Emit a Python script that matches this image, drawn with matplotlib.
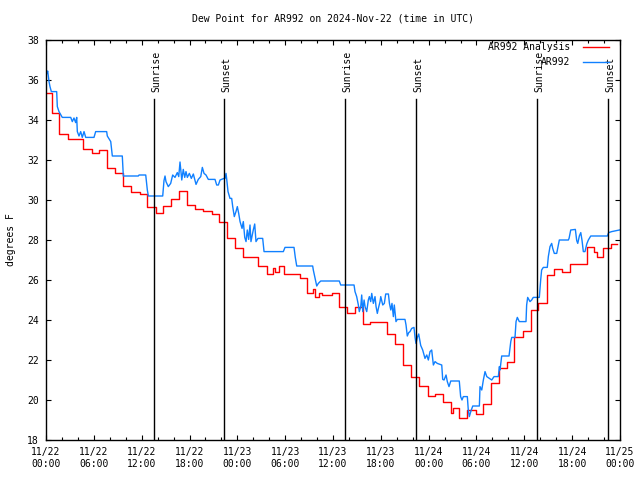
import matplotlib
matplotlib.use("Agg")
import matplotlib.pyplot as plt

# hours since 2024-11-22 00:00 UTC
analysis_hours = [
    0.13, 0.75, 1.6, 2.7, 4.68, 5.81, 6.65, 7.61, 8.66, 9.66, 10.7, 11.75,
    12.71, 13.76, 14.68, 15.72, 16.72, 17.65, 18.69, 19.73, 20.79, 21.7,
    22.67, 23.71, 24.75, 26.63, 27.76, 28.44, 28.73, 29.23, 29.85, 31.86,
    32.7, 33.49, 33.74, 34.2, 34.62, 35.84, 36.79, 37.72, 38.76, 39.73,
    40.64, 42.74, 43.78, 44.75, 45.75, 46.83, 47.96, 48.8, 49.76, 50.8,
    51.05, 51.84, 52.77, 53.9, 54.78, 55.82, 56.82, 57.79, 58.71, 59.8,
    60.8, 61.75, 62.81, 63.72, 64.77, 65.73, 67.83, 68.68, 69.08, 69.91,
    70.87, 71.67,
]
analysis_dewpt = [
    35.35, 34.33, 33.3, 33.05, 32.53, 32.33, 32.5, 31.6, 31.37, 30.7, 30.42, 30.28,
    29.67, 29.35, 29.7, 30.05, 30.47, 29.75, 29.53, 29.43, 29.28, 28.92,
    28.08, 27.58, 27.13, 26.72, 26.3, 26.58, 26.4, 26.7, 26.3, 26.08,
    25.33, 25.53, 25.17, 25.37, 25.25, 25.37, 24.67, 24.33, 24.67, 23.8,
    23.92, 23.3, 22.78, 21.75, 21.17, 20.7, 20.2, 20.3, 19.92, 19.37,
    19.58, 19.12, 19.5, 19.3, 19.78, 20.83, 21.58, 21.92, 23.13, 23.45,
    24.5, 24.87, 26.25, 26.53, 26.42, 26.8, 27.63, 27.4, 27.13, 27.58,
    27.78, 27.78,
]

obs_hours = [
    0.13, 0.21, 0.38, 0.5, 0.67, 1.34, 1.42, 1.63, 2.04, 3.1, 3.3, 3.51, 3.72,
    3.85, 3.93, 4.14, 4.35, 4.55, 4.77, 4.98, 6.02, 6.23, 7.61, 7.69, 8.12,
    8.32, 9.57, 9.7, 11.58, 11.67, 12.51, 12.71, 12.84, 14.64, 14.8, 14.93,
    15.05, 15.34, 15.64, 15.89, 16.18, 16.47, 16.65, 16.81, 17.03, 17.22,
    17.4, 17.56, 17.73, 17.98, 18.23, 18.48, 18.82, 19.1, 19.41, 19.61,
    19.82, 20.07, 20.36, 21.2, 21.41, 21.62, 21.83, 22.33, 22.45, 22.58,
    22.67, 22.83, 23.08, 23.29, 23.42, 23.62, 23.83, 24.0, 24.17, 24.34,
    24.59, 24.75, 24.93, 25.09, 25.25, 25.42, 25.59, 25.71, 26.0, 26.18,
    26.34, 26.59, 27.18, 27.35, 29.77, 29.98, 31.11, 31.27, 31.45, 33.45,
    33.53, 33.96, 34.16, 34.46, 36.79, 36.97, 38.64, 38.76, 38.97, 39.18,
    39.3, 39.48, 39.6, 39.73, 39.9, 40.02, 40.23, 40.43, 40.56, 40.73,
    40.86, 41.06, 41.27, 41.4, 41.56, 41.69, 41.9, 41.99, 42.24, 42.44,
    42.61, 42.95, 43.08, 43.25, 43.4, 43.57, 43.69, 43.9, 44.07, 45.03,
    45.16, 45.32, 45.5, 45.66, 45.87, 46.16, 46.29, 46.41, 46.58, 46.75,
    47.0, 47.25, 47.54, 47.76, 47.96, 48.17, 48.38, 48.59, 48.8, 49.08,
    49.64, 49.76, 49.93, 50.18, 50.34, 50.55, 50.77, 51.84, 52.01, 52.18,
    52.35, 52.85, 52.97, 53.1, 53.28, 53.53, 54.36, 54.44, 54.66, 54.86,
    55.07, 55.29, 55.91, 56.2, 56.74, 56.87, 56.95, 57.16, 58.08, 58.3,
    58.42, 58.83, 58.96, 59.12, 59.37, 60.21, 60.29, 60.42, 60.71, 60.92,
    61.12, 61.88, 62.05, 62.17, 62.38, 62.88, 63.01, 63.22, 63.43, 63.56,
    63.76, 64.06, 64.26, 64.39, 65.52, 65.61, 65.82, 66.4, 66.57, 66.7,
    66.9, 67.08, 67.24, 67.4, 67.61, 67.83, 68.03, 68.33, 70.41, 70.58,
    70.96, 71.92,
]
obs_dewpt = [
    36.33, 36.45, 35.92, 35.67, 35.42, 35.42, 34.67, 34.42, 34.13, 34.13, 33.92, 34.1, 33.87,
    34.13, 33.42, 33.2, 33.42, 33.13, 33.42, 33.13, 33.13, 33.42, 33.42, 33.2, 32.92,
    32.2, 32.2, 31.2, 31.2, 31.25, 31.25, 30.5, 30.2, 30.2, 30.97, 31.2,
    30.92, 30.67, 30.83, 31.25, 31.13, 31.37, 31.17, 31.9, 31.0, 31.53,
    31.13, 31.42, 31.13, 31.33, 31.08, 31.3, 30.78, 31.03, 31.17, 31.63,
    31.33, 31.25, 31.03, 31.03, 30.75, 30.75, 31.0, 31.08, 31.08, 31.33,
    31.03, 30.42, 30.08, 30.08, 29.67, 29.17, 29.42, 29.67, 29.33, 28.92,
    28.58, 28.92, 28.13, 27.92, 28.5, 28.03, 28.75, 27.92, 28.5, 28.8,
    27.92, 28.08, 28.08, 27.42, 27.42, 27.63, 27.63, 27.13, 26.7, 26.7,
    26.5, 25.7, 25.83, 25.95, 25.95, 25.75, 25.75, 25.42, 25.17, 24.75,
    24.42, 24.67, 25.25, 24.42, 25.0, 24.67, 24.42, 25.0, 25.17, 24.92,
    25.33, 24.83, 25.17, 24.67, 24.33, 24.58, 24.92, 25.17, 24.75, 24.83,
    25.3, 25.3, 24.83, 24.5, 24.83, 24.17, 24.75, 23.92, 24.03, 24.03,
    23.75, 23.2, 23.37, 23.42, 23.58, 23.63, 23.13, 22.83, 23.13, 23.3,
    22.73, 22.5, 22.08, 22.25, 22.0, 22.42, 22.5, 21.75, 21.92, 21.83,
    21.75, 21.03, 21.0, 21.25, 20.92, 20.67, 20.95, 20.95, 20.17, 20.0,
    20.17, 20.17, 19.5, 19.17, 19.42, 19.7, 19.7, 20.67, 20.5, 21.0,
    21.42, 21.17, 21.0, 21.17, 21.17, 21.67, 21.5, 22.2, 22.2, 22.92,
    23.13, 23.13, 23.92, 24.13, 23.92, 23.92, 24.75, 25.13, 24.92, 25.0,
    25.13, 25.13, 26.0, 26.5, 26.63, 26.63, 27.17, 27.67, 27.83, 27.58,
    27.33, 27.33, 27.75, 28.0, 28.0, 28.08, 28.5, 28.53, 27.97, 27.83,
    28.2, 28.37, 27.97, 27.42, 27.42, 27.8, 28.0, 28.2, 28.2, 28.37,
    28.42, 28.5,
]

sun_hours = [13.55, 22.33, 37.55, 46.45, 61.63, 70.54]
sun_names = ["Sunrise", "Sunset", "Sunrise", "Sunset", "Sunrise", "Sunset"]

tick_hours = list(range(0, 73, 6))
tick_labels = [
    "11/22\n00:00", "11/22\n06:00", "11/22\n12:00", "11/22\n18:00",
    "11/23\n00:00", "11/23\n06:00", "11/23\n12:00", "11/23\n18:00",
    "11/24\n00:00", "11/24\n06:00", "11/24\n12:00", "11/24\n18:00",
    "11/25\n00:00",
]

plt.rcParams["font.family"] = "DejaVu Sans Mono"
plt.rcParams["font.size"] = 7

fig = plt.figure(figsize=(6.4, 4.8), dpi=100)
ax = fig.add_axes([46 / 640, 40 / 480, 574 / 640, 400 / 480])

ax.plot(analysis_hours, analysis_dewpt, color="#ff0000", lw=1.0,
        drawstyle="steps-post", label="AR992 Analysis")
ax.plot(obs_hours, obs_dewpt, color="#1080ff", lw=1.0, label="AR992")

# sunrise / sunset markers
for t, name in zip(sun_hours, sun_names):
    ax.plot([t, t], [18, 35.05], color="black", lw=1.0)
    ax.text(t + 0.3, 35.4, name, rotation=90, ha="center", va="bottom")

ax.set_xlim(0, 72)
ax.set_ylim(18, 38)
ax.set_xticks(tick_hours)
ax.set_xticklabels(tick_labels)
ax.set_xticks(range(0, 73, 2), minor=True)
ax.set_yticks(range(18, 39, 2))

ax.tick_params(which="both", direction="in", top=True, right=True, color="black")
ax.tick_params(which="major", length=3.5, width=0.8)
ax.tick_params(which="minor", length=2.5, width=0.8)
ax.tick_params(axis="x", pad=5)
ax.tick_params(axis="y", pad=5)
for s in ax.spines.values():
    s.set_linewidth(1.0)

ax.set_title("Dew Point for AR992 on 2024-Nov-22 (time in UTC)", fontsize=7, pad=13)
ax.set_ylabel("degrees F", labelpad=8)

ax.legend(loc="upper right", bbox_to_anchor=(0.981, 0.995), frameon=False,
          markerfirst=False, borderaxespad=0, borderpad=0, handlelength=2.7,
          handletextpad=1.3, labelspacing=0.55)

fig.savefig("out.png", dpi=100)
